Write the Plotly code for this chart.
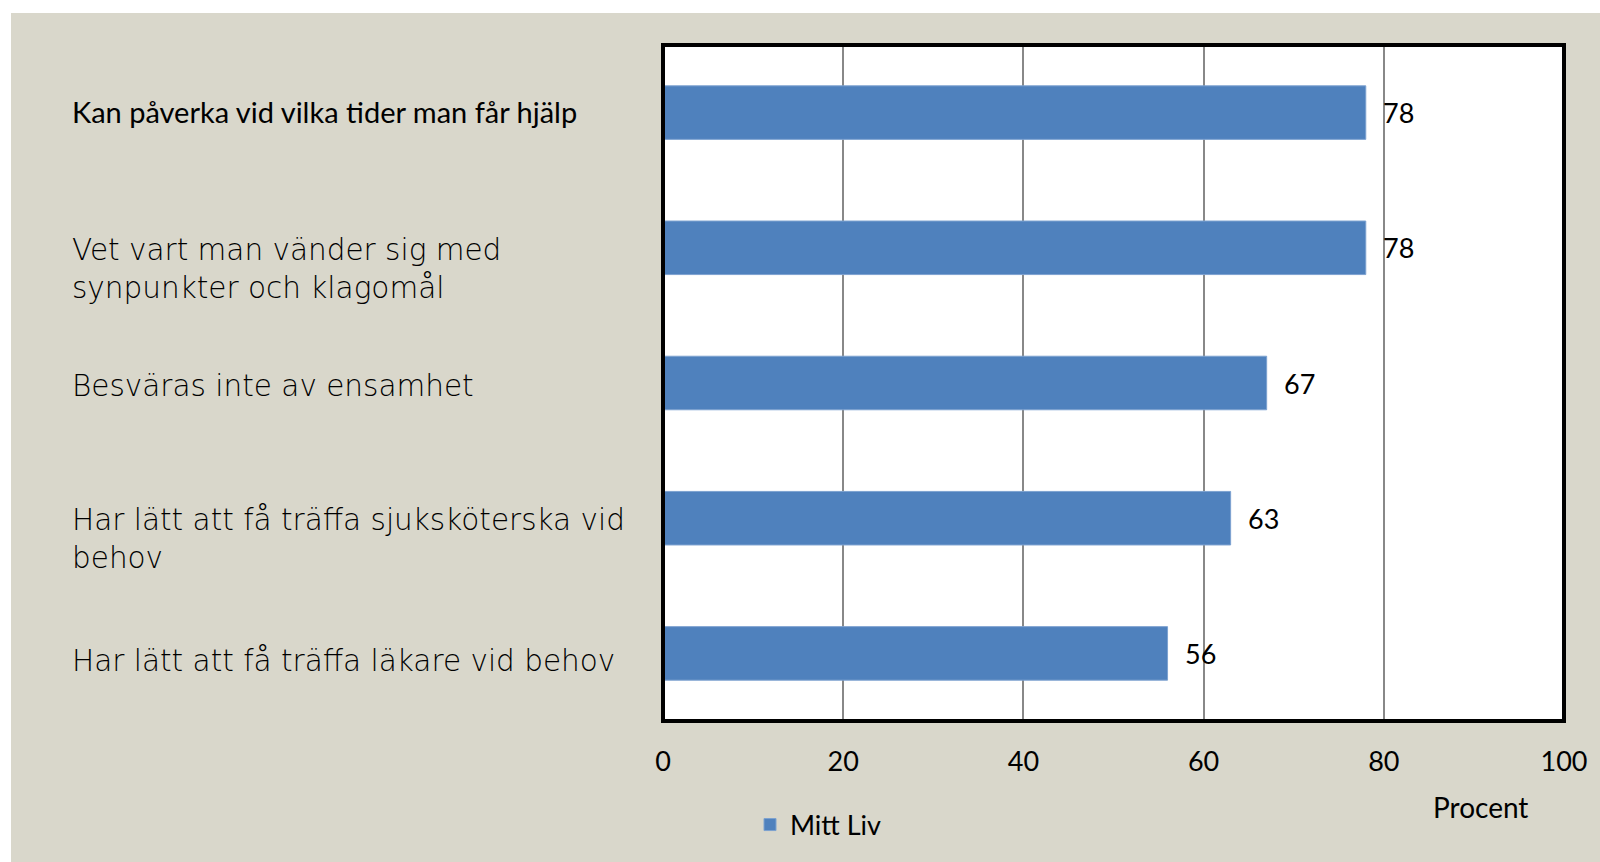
import plotly.graph_objects as go

categories = [
    "Kan påverka vid vilka tider man får hjälp",
    "Vet vart man vänder sig med<br>synpunkter och klagomål",
    "Besväras inte av ensamhet",
    "Har lätt att få träffa sjuksköterska vid<br>behov",
    "Har lätt att få träffa läkare vid behov",
]
values = [78, 78, 67, 63, 56]
series_name = "Mitt Liv"
x_ticks = [0, 20, 40, 60, 80, 100]
x_title = "Procent"

W, H = 1600, 862
L, R, T, B = 663, 36, 45, 141
pw = W - L - R
ph = H - T - B

def px_x(p):
    return (p - L) / pw

def px_y(p):
    return (H - B - p) / ph

BLUE = "#4F81BD"
BEIGE = "#D9D7CB"
FONT = "Lato"
CAT_FONT = "DejaVu Sans"

fig = go.Figure()
fig.add_trace(go.Bar(
    x=values, y=categories, orientation="h", name=series_name,
    marker=dict(color=BLUE, line=dict(color="#7DA2D0", width=1)),
    showlegend=True,
))

# value labels
for c, v in zip(categories, values):
    fig.add_annotation(x=v, y=c, xref="x", yref="y", text=str(v), showarrow=False,
                       xanchor="left", yanchor="middle", xshift=15,
                       font=dict(family=FONT, size=27, color="black"))

# category labels, left aligned
label_shift = [1, -3, -3, -2, -7]
for i, c in enumerate(categories):
    first = i == 0
    nlines = c.count("<br>") + 1
    fig.add_annotation(x=px_x(70), y=c, xref="paper", yref="y", text=c, showarrow=False,
                       xanchor="left", yanchor="middle", align="left",
                       yshift=-(nlines - 1) * 18 + label_shift[i],
                       font=dict(family=FONT if first else CAT_FONT,
                                 size=29 if first else 29.5, color="black",
                                 weight=400 if first else 200))

fig.add_annotation(x=px_x(1480), y=px_y(807), xref="paper", yref="paper", text=x_title,
                   showarrow=False, xanchor="center", yanchor="middle",
                   font=dict(family=FONT, size=28, color="black"))

# white strips around the beige panel (outside the plot area)
fig.add_shape(type="rect", xref="paper", yref="paper", layer="below",
              x0=px_x(0), x1=px_x(1600), y0=px_y(13), y1=px_y(0),
              fillcolor="white", line=dict(width=0))
fig.add_shape(type="rect", xref="paper", yref="paper", layer="below",
              x0=px_x(0), x1=px_x(11), y0=px_y(862), y1=px_y(0),
              fillcolor="white", line=dict(width=0))

# black frame around the plot area
fig.add_shape(type="rect", xref="paper", yref="paper", layer="above",
              x0=0, x1=1, y0=0, y1=1, line=dict(color="black", width=4))

fig.update_layout(
    width=W, height=H,
    margin=dict(l=L, r=R, t=T, b=B, pad=0),
    paper_bgcolor=BEIGE, plot_bgcolor="white",
    bargap=0.604,
    font=dict(family=FONT, size=27, color="black"),
    legend=dict(x=px_x(750), y=px_y(825), xanchor="left", yanchor="middle",
                orientation="h", bgcolor="rgba(0,0,0,0)", font=dict(size=27)),
    xaxis=dict(range=[0, 100], tickvals=x_ticks, showgrid=True, gridcolor="#888888", gridwidth=1.5,
               showline=False, zeroline=False,
               ticks="", ticklabelstandoff=22, tickfont=dict(size=27)),
    yaxis=dict(autorange="reversed", showticklabels=False, showgrid=False, ticks="",
               showline=False, zeroline=False),
)

fig.write_html("out.html", config={"displayModeBar": False},
               post_script="document.body.style.margin='0';")
